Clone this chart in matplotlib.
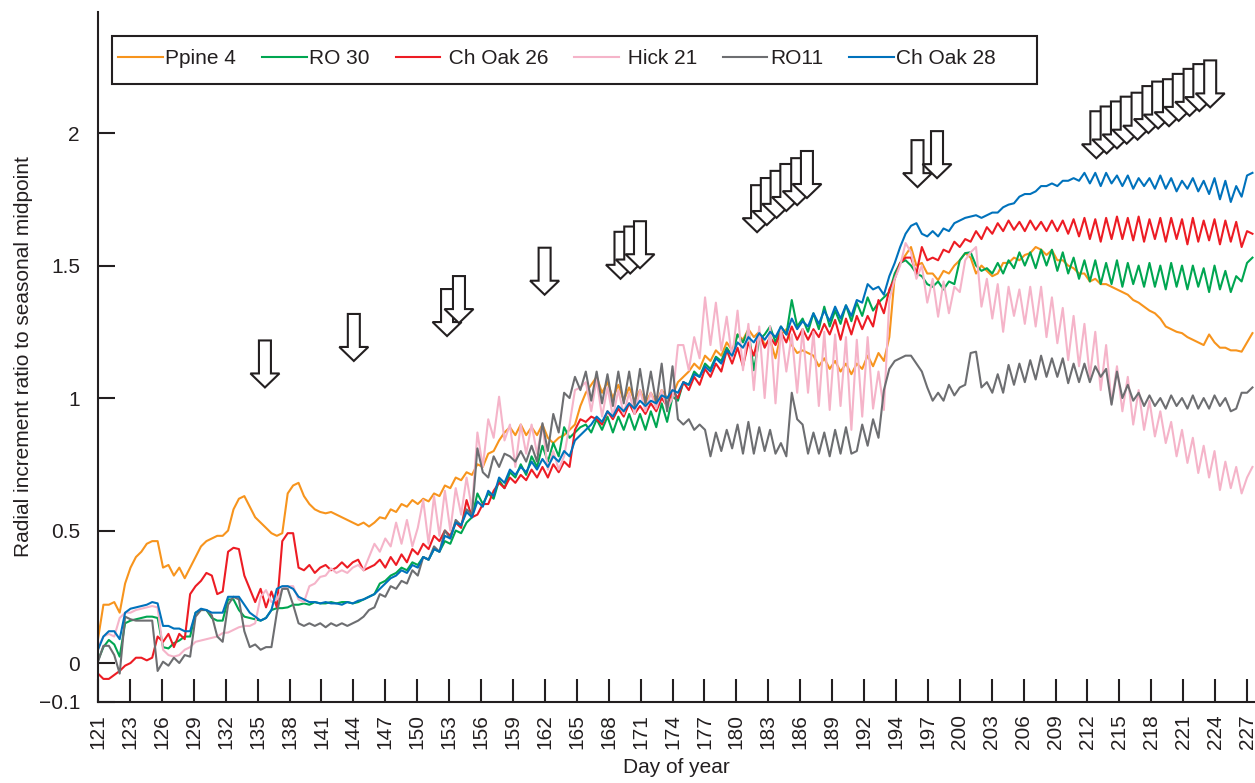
import numpy as np
import matplotlib
matplotlib.use("Agg")
import matplotlib.pyplot as plt
import matplotlib.transforms as mtransforms
from matplotlib.patches import Polygon, Rectangle

plt.rcParams["font.family"] = ["Liberation Sans", "DejaVu Sans"]

INK = "#231f20"

# readings every half day, starting at day 121.0
FIRST_DAY = 121
STEP = 0.5

PPINE_4 = [
    0.09, 0.22, 0.22, 0.23, 0.19, 0.30, 0.36, 0.40, 0.42, 0.45, 0.46, 0.46, 0.36, 0.37, 0.33, 0.36, 0.32, 0.36, 0.40, 0.44,
    0.46, 0.47, 0.48, 0.48, 0.50, 0.58, 0.62, 0.63, 0.59, 0.55, 0.53, 0.51, 0.49, 0.48, 0.49, 0.64, 0.67, 0.68, 0.63, 0.60,
    0.58, 0.57, 0.565, 0.57, 0.56, 0.55, 0.54, 0.53, 0.52, 0.53, 0.515, 0.53, 0.55, 0.545, 0.58, 0.57, 0.60, 0.59, 0.615, 0.60,
    0.62, 0.61, 0.64, 0.63, 0.67, 0.66, 0.70, 0.69, 0.72, 0.71, 0.75, 0.74, 0.79, 0.80, 0.84, 0.87, 0.89, 0.86, 0.90, 0.86,
    0.89, 0.86, 0.90, 0.85, 0.83, 0.85, 0.86, 0.88, 0.90, 0.97, 1.02, 1.05, 1.08, 1.02, 1.06, 1.00, 1.05, 0.99, 1.04, 0.99,
    1.03, 0.98, 1.02, 0.98, 1.03, 1.00, 1.01, 1.06, 1.08, 1.10, 1.13, 1.11, 1.16, 1.14, 1.18, 1.16, 1.21, 1.18, 1.24, 1.22,
    1.26, 1.23, 1.25, 1.20, 1.22, 1.15, 1.24, 1.26, 1.20, 1.17, 1.18, 1.17, 1.16, 1.12, 1.15, 1.11, 1.14, 1.10, 1.13, 1.09,
    1.13, 1.11, 1.16, 1.12, 1.17, 1.14, 1.23, 1.46, 1.51, 1.54, 1.57, 1.50, 1.51, 1.47, 1.47, 1.445, 1.48, 1.47, 1.50, 1.52,
    1.547, 1.53, 1.47, 1.50, 1.48, 1.46, 1.47, 1.51, 1.51, 1.53, 1.52, 1.54, 1.547, 1.57, 1.56, 1.54, 1.558, 1.52, 1.52, 1.50,
    1.49, 1.47, 1.47, 1.44, 1.45, 1.43, 1.43, 1.42, 1.41, 1.40, 1.39, 1.37, 1.36, 1.345, 1.33, 1.32, 1.30, 1.27, 1.26, 1.25,
    1.245, 1.23, 1.22, 1.21, 1.20, 1.24, 1.21, 1.19, 1.19, 1.18, 1.18, 1.175, 1.21, 1.245,
]

RO_30 = [
    0.01, 0.06, 0.087, 0.07, 0.024, 0.15, 0.16, 0.165, 0.17, 0.175, 0.175, 0.17, 0.06, 0.055, 0.075, 0.085, 0.10, 0.10, 0.19, 0.20,
    0.20, 0.17, 0.16, 0.16, 0.24, 0.24, 0.20, 0.175, 0.17, 0.165, 0.16, 0.17, 0.20, 0.207, 0.207, 0.21, 0.22, 0.22, 0.225, 0.22,
    0.23, 0.225, 0.225, 0.23, 0.225, 0.23, 0.23, 0.225, 0.23, 0.24, 0.25, 0.26, 0.30, 0.31, 0.33, 0.34, 0.36, 0.35, 0.38, 0.37,
    0.40, 0.39, 0.43, 0.42, 0.46, 0.45, 0.50, 0.49, 0.53, 0.55, 0.64, 0.60, 0.64, 0.62, 0.69, 0.66, 0.72, 0.70, 0.75, 0.71,
    0.78, 0.74, 0.82, 0.76, 0.83, 0.78, 0.89, 0.85, 0.87, 0.89, 0.90, 0.87, 0.92, 0.88, 0.93, 0.87, 0.93, 0.88, 0.94, 0.88,
    0.94, 0.88, 0.95, 0.89, 0.98, 0.91, 1.005, 0.99, 1.06, 1.05, 1.10, 1.08, 1.13, 1.11, 1.156, 1.14, 1.19, 1.16, 1.24, 1.21,
    1.257, 1.105, 1.22, 1.24, 1.27, 1.21, 1.27, 1.24, 1.37, 1.27, 1.30, 1.25, 1.32, 1.26, 1.345, 1.27, 1.33, 1.28, 1.35, 1.29,
    1.36, 1.31, 1.38, 1.33, 1.36, 1.38, 1.40, 1.47, 1.51, 1.52, 1.50, 1.47, 1.46, 1.43, 1.42, 1.44, 1.41, 1.44, 1.43, 1.52,
    1.547, 1.55, 1.50, 1.48, 1.49, 1.47, 1.51, 1.47, 1.52, 1.49, 1.55, 1.50, 1.55, 1.49, 1.56, 1.50, 1.56, 1.48, 1.55, 1.47,
    1.53, 1.45, 1.52, 1.44, 1.52, 1.43, 1.51, 1.43, 1.52, 1.42, 1.51, 1.43, 1.50, 1.42, 1.51, 1.42, 1.50, 1.41, 1.51, 1.42,
    1.50, 1.41, 1.50, 1.42, 1.49, 1.40, 1.50, 1.41, 1.48, 1.40, 1.46, 1.44, 1.51, 1.53,
]

CH_OAK_26 = [
    -0.04, -0.06, -0.06, -0.045, -0.03, -0.01, 0.00, 0.02, 0.02, 0.01, 0.02, 0.10, 0.08, 0.11, 0.06, 0.11, 0.09, 0.26, 0.29, 0.31,
    0.34, 0.33, 0.26, 0.27, 0.42, 0.435, 0.43, 0.33, 0.28, 0.23, 0.28, 0.21, 0.27, 0.21, 0.46, 0.49, 0.49, 0.36, 0.35, 0.37,
    0.34, 0.36, 0.37, 0.35, 0.36, 0.38, 0.36, 0.38, 0.39, 0.35, 0.36, 0.37, 0.39, 0.36, 0.40, 0.37, 0.41, 0.38, 0.43, 0.41,
    0.45, 0.43, 0.48, 0.46, 0.50, 0.48, 0.53, 0.51, 0.615, 0.55, 0.56, 0.60, 0.60, 0.65, 0.68, 0.66, 0.70, 0.68, 0.71, 0.69,
    0.73, 0.70, 0.74, 0.70, 0.75, 0.72, 0.76, 0.74, 0.88, 0.92, 0.91, 0.93, 0.92, 0.90, 0.95, 0.92, 0.96, 0.93, 0.98, 0.94,
    0.97, 0.94, 0.98, 0.95, 1.00, 0.97, 1.03, 1.00, 1.06, 1.03, 1.08, 1.05, 1.11, 1.08, 1.13, 1.10, 1.18, 1.13, 1.19, 1.12,
    1.21, 1.16, 1.245, 1.19, 1.23, 1.20, 1.25, 1.21, 1.27, 1.22, 1.26, 1.22, 1.26, 1.23, 1.28, 1.24, 1.295, 1.22, 1.30, 1.24,
    1.31, 1.26, 1.31, 1.27, 1.37, 1.32, 1.41, 1.45, 1.51, 1.53, 1.53, 1.47, 1.57, 1.52, 1.53, 1.52, 1.56, 1.55, 1.59, 1.57,
    1.60, 1.59, 1.63, 1.60, 1.645, 1.62, 1.66, 1.63, 1.67, 1.635, 1.665, 1.63, 1.67, 1.635, 1.665, 1.63, 1.67, 1.63, 1.67, 1.62,
    1.675, 1.61, 1.68, 1.60, 1.675, 1.59, 1.68, 1.60, 1.685, 1.60, 1.68, 1.595, 1.685, 1.59, 1.675, 1.60, 1.68, 1.59, 1.68, 1.60,
    1.675, 1.58, 1.68, 1.59, 1.67, 1.595, 1.675, 1.58, 1.67, 1.59, 1.665, 1.57, 1.63, 1.62,
]

HICK_21 = [
    0.06, 0.10, 0.11, 0.10, 0.17, 0.19, 0.19, 0.20, 0.205, 0.21, 0.215, 0.21, 0.05, 0.03, 0.024, 0.03, 0.05, 0.06, 0.08, 0.085,
    0.09, 0.095, 0.10, 0.113, 0.115, 0.125, 0.135, 0.14, 0.14, 0.15, 0.25, 0.275, 0.23, 0.24, 0.28, 0.29, 0.29, 0.24, 0.23, 0.29,
    0.30, 0.325, 0.33, 0.357, 0.34, 0.35, 0.34, 0.36, 0.37, 0.35, 0.40, 0.45, 0.42, 0.47, 0.44, 0.53, 0.45, 0.54, 0.44, 0.51,
    0.615, 0.45, 0.63, 0.48, 0.65, 0.50, 0.66, 0.56, 0.70, 0.58, 0.87, 0.74, 0.92, 0.85, 1.005, 0.84, 0.90, 0.74, 0.90, 0.79,
    0.90, 0.79, 0.90, 0.73, 0.80, 0.73, 0.78, 0.90, 1.03, 1.04, 1.06, 0.95, 1.07, 0.93, 1.04, 0.93, 1.03, 0.94, 1.02, 0.94,
    1.03, 0.95, 1.02, 0.96, 1.03, 0.96, 1.00, 1.20, 1.20, 1.105, 1.23, 1.15, 1.38, 1.20, 1.36, 1.18, 1.307, 1.15, 1.33, 1.105,
    1.28, 1.03, 1.27, 1.00, 1.27, 0.98, 1.26, 1.10, 1.24, 1.02, 1.26, 1.02, 1.25, 0.97, 1.25, 0.955, 1.24, 0.97, 1.23, 0.88,
    1.22, 0.93, 1.23, 0.96, 1.10, 0.955, 1.37, 1.45, 1.50, 1.585, 1.55, 1.45, 1.50, 1.36, 1.45, 1.307, 1.44, 1.32, 1.42, 1.40,
    1.52, 1.55, 1.57, 1.345, 1.45, 1.30, 1.43, 1.25, 1.42, 1.31, 1.41, 1.28, 1.42, 1.27, 1.42, 1.23, 1.38, 1.207, 1.34, 1.143,
    1.31, 1.12, 1.28, 1.08, 1.25, 1.03, 1.20, 0.98, 1.12, 0.95, 1.08, 0.90, 1.03, 0.88, 0.99, 0.855, 0.95, 0.83, 0.91, 0.78,
    0.88, 0.755, 0.85, 0.717, 0.82, 0.70, 0.80, 0.653, 0.76, 0.66, 0.74, 0.64, 0.70, 0.74,
]

RO11 = [
    0.005, 0.065, 0.065, 0.03, -0.04, 0.175, 0.165, 0.16, 0.16, 0.16, 0.16, -0.03, 0.005, -0.01, 0.02, 0.00, 0.03, 0.024, 0.175, 0.20,
    0.20, 0.18, 0.10, 0.08, 0.22, 0.25, 0.24, 0.12, 0.06, 0.07, 0.05, 0.06, 0.06, 0.19, 0.28, 0.28, 0.22, 0.15, 0.14, 0.15,
    0.14, 0.15, 0.135, 0.15, 0.14, 0.15, 0.14, 0.15, 0.16, 0.175, 0.20, 0.21, 0.26, 0.25, 0.29, 0.28, 0.31, 0.30, 0.35, 0.33,
    0.40, 0.39, 0.44, 0.42, 0.50, 0.47, 0.54, 0.52, 0.58, 0.56, 0.81, 0.72, 0.70, 0.78, 0.74, 0.79, 0.78, 0.76, 0.80, 0.76,
    0.82, 0.76, 0.905, 0.80, 0.94, 0.87, 1.02, 1.00, 1.08, 1.03, 1.10, 0.99, 1.10, 0.98, 1.09, 0.97, 1.10, 0.98, 1.10, 0.97,
    1.11, 0.98, 1.10, 0.98, 1.13, 0.95, 1.12, 0.92, 0.90, 0.92, 0.88, 0.90, 0.88, 0.78, 0.87, 0.80, 0.88, 0.81, 0.90, 0.79,
    0.91, 0.79, 0.89, 0.80, 0.88, 0.79, 0.83, 0.78, 1.02, 0.92, 0.90, 0.79, 0.87, 0.79, 0.87, 0.78, 0.88, 0.79, 0.89, 0.79,
    0.80, 0.90, 0.82, 0.92, 0.85, 1.03, 1.11, 1.14, 1.15, 1.16, 1.16, 1.13, 1.10, 1.04, 0.99, 1.02, 0.99, 1.05, 1.01, 1.04,
    1.05, 1.17, 1.175, 1.04, 1.06, 1.02, 1.09, 1.02, 1.125, 1.05, 1.13, 1.06, 1.143, 1.07, 1.16, 1.08, 1.15, 1.08, 1.15, 1.056,
    1.13, 1.06, 1.13, 1.06, 1.12, 1.08, 1.11, 0.975, 1.10, 1.00, 1.05, 0.99, 1.02, 0.97, 1.01, 0.97, 1.00, 0.96, 1.01, 0.97,
    1.00, 0.96, 1.01, 0.96, 1.00, 0.96, 1.01, 0.97, 1.00, 0.95, 0.96, 1.02, 1.02, 1.04,
]

CH_OAK_28 = [
    0.05, 0.10, 0.12, 0.12, 0.09, 0.19, 0.205, 0.21, 0.215, 0.22, 0.23, 0.225, 0.14, 0.14, 0.13, 0.13, 0.12, 0.12, 0.19, 0.205,
    0.20, 0.19, 0.19, 0.19, 0.25, 0.25, 0.25, 0.22, 0.19, 0.175, 0.16, 0.17, 0.20, 0.28, 0.29, 0.29, 0.28, 0.25, 0.24, 0.23,
    0.23, 0.225, 0.23, 0.225, 0.225, 0.22, 0.23, 0.225, 0.235, 0.24, 0.25, 0.26, 0.28, 0.30, 0.32, 0.33, 0.35, 0.34, 0.37, 0.36,
    0.40, 0.39, 0.43, 0.42, 0.48, 0.47, 0.53, 0.52, 0.57, 0.55, 0.61, 0.59, 0.65, 0.63, 0.70, 0.68, 0.73, 0.71, 0.74, 0.72,
    0.76, 0.73, 0.77, 0.74, 0.78, 0.76, 0.80, 0.78, 0.84, 0.86, 0.88, 0.90, 0.93, 0.91, 0.95, 0.93, 0.97, 0.95, 0.98, 0.96,
    0.99, 0.97, 0.99, 0.98, 1.01, 1.00, 1.03, 1.02, 1.06, 1.05, 1.09, 1.08, 1.12, 1.10, 1.15, 1.13, 1.18, 1.16, 1.21, 1.19,
    1.23, 1.21, 1.245, 1.22, 1.25, 1.23, 1.27, 1.24, 1.30, 1.26, 1.29, 1.27, 1.32, 1.28, 1.33, 1.29, 1.345, 1.30, 1.35, 1.31,
    1.37, 1.36, 1.43, 1.41, 1.42, 1.39, 1.46, 1.51, 1.57, 1.62, 1.65, 1.66, 1.62, 1.61, 1.63, 1.61, 1.64, 1.63, 1.66, 1.67,
    1.68, 1.685, 1.69, 1.68, 1.69, 1.70, 1.70, 1.72, 1.73, 1.735, 1.76, 1.77, 1.77, 1.78, 1.80, 1.80, 1.81, 1.80, 1.82, 1.82,
    1.83, 1.82, 1.85, 1.81, 1.85, 1.80, 1.85, 1.81, 1.84, 1.80, 1.84, 1.79, 1.83, 1.80, 1.83, 1.79, 1.84, 1.79, 1.83, 1.78,
    1.82, 1.79, 1.83, 1.78, 1.82, 1.77, 1.83, 1.75, 1.82, 1.74, 1.80, 1.76, 1.84, 1.85,
]

SERIES = [
    ("Ppine 4", PPINE_4, "#f7941d"),
    ("RO 30", RO_30, "#00a651"),
    (" Ch Oak 26", CH_OAK_26, "#ed1c24"),
    (" Hick 21", HICK_21, "#f5b4c9"),
    ("RO11", RO11, "#6d6e71"),
    ("Ch Oak 28", CH_OAK_28, "#0072bc"),
]

TICK_LABELS = ["121", "123", "126", "129", "132", "135", "138", "141", "144", "147",
               "150", "153", "156", "159", "162", "165", "168", "171", "174", "177",
               "180", "183", "186", "189", "192", "194", "197", "200", "203", "206",
               "209", "212", "215", "218", "221", "224", "227"]

# hollow arrows: day of the tip and value at the tip
ARROW_DAYS = [136.4, 144.6, 153.2, 154.3, 162.2, 169.2, 170.1, 171.0,
              181.8, 182.7, 183.6, 184.5, 185.5, 186.4, 196.6, 198.4,
              213.1, 214.05, 215.0, 215.9, 216.9, 217.9, 218.8, 219.8,
              220.7, 221.7, 222.6, 223.6]
ARROW_TIPS = [1.04, 1.14, 1.234, 1.283, 1.39, 1.45, 1.47, 1.49,
              1.626, 1.653, 1.68, 1.706, 1.728, 1.755, 1.796, 1.83,
              1.905, 1.923, 1.942, 1.96, 1.975, 2.0, 2.017, 2.026,
              2.046, 2.065, 2.083, 2.097]

W, H = 1255, 783
fig = plt.figure(figsize=(W / 100, H / 100), dpi=100)
ax = fig.add_axes([98 / W, (H - 701.7) / H, (W - 98) / W, (701.7 - 12) / H])

for label, vals, color in SERIES:
    x = FIRST_DAY + STEP * np.arange(len(vals))
    ax.plot(x, vals, color=color, lw=1.5, label=label, solid_joinstyle="round")

x_right = FIRST_DAY + (W - 98) / 10.84
ax.set_xlim(FIRST_DAY, x_right)
y_bot, y_top = -0.146, 2.457
ax.set_ylim(y_bot, y_top)

tick_pos = np.linspace(121, 227, len(TICK_LABELS))
ax.set_xticks(tick_pos)
ax.set_xticklabels(TICK_LABELS, rotation=90, fontsize=15, color=INK)
ax.set_yticks([y_bot, 0, 0.5, 1, 1.5, 2])
ax.set_yticklabels(["\u22120.1", "0", "0.5", "1", "1.5", "2"], fontsize=15, color=INK)
ax.tick_params(axis="x", direction="in", length=16.5, width=1.5, color=INK, pad=9)
ax.tick_params(axis="y", direction="in", length=12, width=1.5, color=INK, pad=13)

for side in ("top", "right"):
    ax.spines[side].set_visible(False)
for side in ("left", "bottom"):
    ax.spines[side].set_linewidth(1.5)
    ax.spines[side].set_color(INK)

ax.set_xlabel("Day of year", fontsize=15, color=INK, labelpad=6)
ax.set_ylabel("Radial increment ratio to seasonal midpoint", fontsize=15, color=INK, labelpad=4)

# arrows drawn in pixel offsets around each tip
shape = [(0, 0), (-14.5, 14), (-6, 14), (-6, 47), (6, 47), (6, 14), (14.5, 14)]
for i, (d, t) in enumerate(zip(ARROW_DAYS, ARROW_TIPS)):
    tr = mtransforms.IdentityTransform() + mtransforms.ScaledTranslation(d, t, ax.transData)
    ax.add_patch(Polygon(shape, closed=True, transform=tr, facecolor="white",
                         edgecolor=INK, lw=1.5, zorder=5 + i * 0.01, clip_on=False))

# legend with its own box
ax.add_patch(Rectangle((112 / W, (H - 84) / H), 925 / W, 48 / H,
                       transform=fig.transFigure, facecolor="white",
                       edgecolor=INK, lw=1.5, zorder=9, clip_on=False))
leg = ax.legend(ncol=6, loc="center left", bbox_to_anchor=(118 / W, (H - 59) / H),
                bbox_transform=fig.transFigure, frameon=False, fontsize=15,
                handlelength=2.15, handletextpad=0.12, columnspacing=1.24,
                borderpad=0, borderaxespad=0)
for t in leg.get_texts():
    t.set_color(INK)
leg.set_zorder(11)

fig.savefig("out.png", dpi=100)
